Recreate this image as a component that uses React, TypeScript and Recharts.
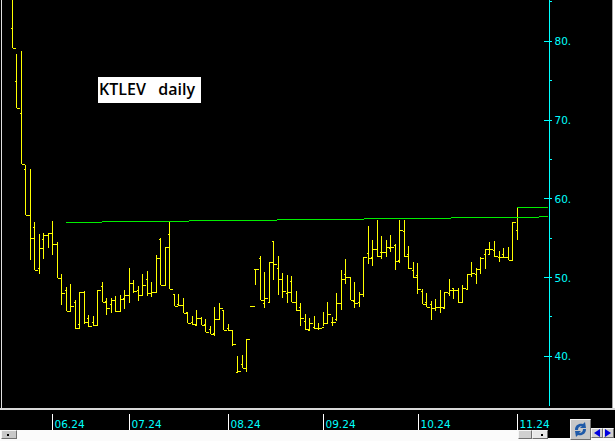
import React from 'react';
import { ComposedChart, Bar, XAxis, YAxis, ReferenceLine } from 'recharts';

// Daily bars, one entry per trading day
const highs = [
    86, 78.35, 78.77, 64.29, 63.78, 57.05, 55.53, 55.62, 55.7, 57.18,
    54.51, 50.45, 48.76, 49.18, 47.15, 48.17, 48.29, 45.2, 45.12, 48.42,
    49.47, 47.44, 47.44, 47.66, 47.78, 48.42, 51.17, 49.69, 48.93, 50.41,
    50.83, 49.43, 52.86, 54.98, 53.84, 57.09, 47.87, 47.91, 47.36, 45.66,
    45.12, 45.88, 45.03, 44.74, 43.85, 46.26, 46.77, 45.92, 44.14, 43.3,
    40.04, 40.17, 42.16, 46.35, 51.09, 52.74, 50.67, 51.94, 54.6, 52.74,
    50.62, 50.32, 50.24, 48.29, 46.73, 45.37, 44.83, 45.12, 44.19, 45.66,
    46.9, 44.95, 48.0, 50.96, 52.36, 50.03, 49.47, 48.21, 52.65, 56.58,
    54.77, 57.31, 55.28, 54.77, 55.4, 54.22, 57.31, 57.31, 53.97, 51.94,
    51.85, 48.55, 48.04, 47.02, 47.27, 48.46, 48.13, 49.82, 48.63, 48.63,
    49.05, 50.45, 52.01, 51.25, 52.65, 53.62, 54.47, 54.64, 53.37, 53.71,
    53.88, 57.02, 58.92,
];
const lows = [
    79.1, 71.49, 64.42, 57.9, 52.23, 50.92, 50.49, 52.36, 53.79, 52.9,
    49.9, 46.55, 45.75, 45.71, 43.43, 43.43, 44.14, 43.76, 43.89, 44.01,
    46.93, 45.24, 45.54, 45.66, 45.75, 46.0, 46.73, 48.08, 47.02, 47.69,
    47.66, 47.57, 48.13, 49.02, 49.02, 48.55, 46.43, 46.39, 45.54, 44.27,
    43.94, 43.89, 43.94, 43.05, 42.79, 42.62, 44.78, 43.3, 43.25, 41.31,
    38.04, 38.48, 37.97, 46.3, 49.05, 47.15, 46.09, 46.93, 49.69, 47.78,
    47.44, 46.81, 46.86, 45.79, 43.85, 43.34, 43.17, 43.47, 43.34, 43.89,
    44.06, 43.89, 44.48, 45.88, 49.18, 47.15, 46.17, 46.3, 47.49, 51.76,
    51.5, 52.65, 52.36, 52.65, 53.2, 50.96, 51.81, 52.65, 51.09, 49.9,
    47.87, 46.6, 46.22, 44.65, 45.75, 45.5, 46.04, 47.69, 47.27, 46.81,
    46.93, 48.42, 50.11, 49.18, 50.45, 51.09, 52.86, 52.65, 52.01, 52.52,
    52.23, 52.14, 54.77,
];
const opens = [
    81.65, 74.92, 70.93, 63.75, 57.9, 56.42, 51.17, 54.86, 55.4, 55.7,
    54.26, 49.9, 48.42, 45.75, 46.93, 44.1, 48.17, 44.82, 44.39, 44.01,
    48.89, 47.06, 46.6, 47.15, 45.75, 47.36, 47.78, 49.35, 48.46, 47.75,
    49.78, 48.0, 48.13, 54.93, 49.02, 55.49, 47.87, 46.64, 46.5, 45.6,
    44.39, 43.97, 44.83, 44.06, 43.47, 43.0, 44.7, 45.84, 43.63, 43.3,
    38.04, 38.98, 38.48, 46.35, 51.05, 52.44, 46.73, 46.93, 54.6, 51.17,
    49.78, 48.08, 49.56, 46.86, 46.26, 44.5, 43.34, 43.76, 43.63, 43.76,
    44.19, 44.39, 44.7, 46.73, 50.41, 50.03, 47.02, 46.93, 47.87, 53.08,
    52.65, 53.62, 53.2, 53.28, 53.71, 54.13, 52.23, 55.95, 52.99, 50.96,
    50.29, 48.29, 46.86, 46.6, 46.09, 46.22, 46.17, 48.0, 48.63, 48.38,
    46.93, 48.51, 50.45, 50.41, 51.09, 52.95, 52.95, 53.5, 52.65, 52.95,
    52.57, 52.23, 56.0,
];
const closes = [
    79.1, 71.49, 64.42, 57.9, 55.02, 50.92, 53.71, 55.4, 55.62, 54.22,
    49.9, 48.0, 45.75, 46.35, 43.63, 48.17, 44.32, 43.89, 43.97, 48.42,
    46.93, 46.09, 47.15, 45.75, 47.24, 47.78, 49.27, 48.29, 47.75, 49.02,
    48.0, 48.13, 52.44, 49.02, 53.84, 48.55, 46.43, 46.5, 45.54, 44.27,
    44.06, 44.83, 43.94, 43.12, 42.87, 44.7, 46.09, 43.34, 43.3, 41.56,
    38.13, 38.56, 42.16, 46.35, 51.05, 47.15, 47.36, 51.94, 51.68, 49.78,
    48.29, 48.21, 46.93, 45.88, 44.9, 43.43, 44.19, 43.63, 43.56, 44.19,
    45.33, 44.32, 46.73, 49.78, 50.03, 47.15, 46.81, 47.87, 52.65, 52.52,
    53.62, 52.78, 53.28, 53.84, 53.92, 52.1, 56.04, 52.74, 51.17, 50.03,
    48.51, 46.6, 46.3, 46.09, 46.22, 46.22, 48.13, 48.38, 48.4, 46.86,
    48.71, 50.45, 50.58, 51.09, 52.52, 53.59, 53.59, 52.74, 52.65, 52.57,
    52.23, 57.02, 58.92,
];

const monthTicks = [9, 26, 48, 69, 90, 112];
const monthLabels = ['06.24', '07.24', '08.24', '09.24', '10.24', '11.24'];
const priceTicks = [40, 45, 50, 55, 60, 65, 70, 75, 80, 85];

// Hand drawn lines on the chart: rising trendline and last close level
const trendStart = { x: 12, y: 57.0 };
const trendEnd = { x: 118.9, y: 57.7 };
const lastLevel = 58.92;

const chartData = highs.map((high, i) => ({
    idx: i,
    range: [lows[i], high],
    high,
    low: lows[i],
    open: opens[i],
    close: closes[i],
}));

const OhlcBar = (props: any) => {
    const { x, y, width, height, payload } = props;
    const cx = Math.floor(x + width / 2) + 0.5;
    const span = payload.high - payload.low;
    const toY = (v: number) => Math.round(span > 0 ? y + ((payload.high - v) / span) * height : y) + 0.5;
    return (
        <g stroke="#ffff00" strokeWidth={1} shapeRendering="crispEdges">
            <line x1={cx} x2={cx} y1={y} y2={y + height} />
            <line x1={cx - 2} x2={cx} y1={toY(payload.open)} y2={toY(payload.open)} />
            <line x1={cx} x2={cx + 3} y1={toY(payload.close)} y2={toY(payload.close)} />
        </g>
    );
};

const PriceTick = (props: any) => {
    const { x, y, payload } = props;
    const major = payload.value % 10 === 0;
    return (
        <g>
            <line x1={x - (major ? 8 : 3)} x2={x} y1={y} y2={y} stroke="#00ffff" shapeRendering="crispEdges" />
            {major && (
                <text x={x + 3} y={y + 4} fill="#00ffff" fontSize={10.5} fontFamily="DejaVu Sans">
                    {`${payload.value}.`}
                </text>
            )}
        </g>
    );
};

const MonthTick = (props: any) => {
    const { x, y, payload } = props;
    const cx = Math.floor(x) + 0.5;
    return (
        <g>
            <line x1={cx} x2={cx} y1={y + 6} y2={y + 24} stroke="#ffffff" shapeRendering="crispEdges" />
            <text x={cx + 2} y={y + 20} fill="#00ffff" fontSize={10.5} fontFamily="DejaVu Sans">
                {monthLabels[monthTicks.indexOf(payload.value)]}
            </text>
        </g>
    );
};

const box = (left: number, top: number, width: number, height: number, background: string): React.CSSProperties => ({
    position: 'absolute',
    left,
    top,
    width,
    height,
    background,
});

const bevel: React.CSSProperties = {
    boxSizing: 'border-box',
    borderTop: '1px solid #f4f4f4',
    borderLeft: '1px solid #f4f4f4',
    borderRight: '1px solid #707070',
    borderBottom: '1px solid #707070',
};

export default function App() {
    return (
        <div style={{ position: 'relative', width: 615, height: 441, background: '#000', overflow: 'hidden' }}>
            <style>{`body { margin: 0; }`}</style>

            <ComposedChart width={615} height={441} data={chartData} margin={{ top: 0, right: 0, bottom: 0, left: 0 }}>
                <XAxis
                    dataKey="idx"
                    type="number"
                    domain={[-2.728, 119.14]}
                    allowDataOverflow
                    ticks={monthTicks}
                    interval={0}
                    height={35}
                    axisLine={false}
                    tickLine={false}
                    tickSize={0}
                    tick={<MonthTick />}
                />
                <YAxis
                    orientation="right"
                    width={65.5}
                    domain={[33.69, 85.24]}
                    allowDataOverflow
                    ticks={priceTicks}
                    interval={0}
                    axisLine={{ stroke: '#00ffff' }}
                    tickLine={false}
                    tickSize={0}
                    tick={<PriceTick />}
                />
                <Bar dataKey="range" barSize={4} shape={<OhlcBar />} isAnimationActive={false} />
                <ReferenceLine
                    segment={[trendStart, trendEnd]}
                    stroke="#00ee00"
                    strokeWidth={1}
                    shapeRendering="crispEdges"
                    ifOverflow="visible"
                />
                <ReferenceLine
                    segment={[{ x: 112, y: lastLevel }, { x: 118.9, y: lastLevel }]}
                    stroke="#00ee00"
                    strokeWidth={1}
                    shapeRendering="crispEdges"
                    ifOverflow="visible"
                />
            </ComposedChart>

            {/* title box */}
            <div style={{
                ...box(98, 77, 103, 26, '#fff'),
                color: '#000',
                fontFamily: 'Open Sans',
                fontWeight: 600,
                fontSize: 16,
                lineHeight: '25px',
                whiteSpace: 'pre',
                paddingLeft: 1,
                boxSizing: 'border-box',
            }}>
                KTLEV   daily
            </div>

            {/* window frame */}
            <div style={box(1, 0, 1, 408, '#e0e0e0')} />
            <div style={box(0, 408, 615, 2, '#d8d8d8')} />
            <div style={box(612, 0, 1, 408, '#a8a8a8')} />
            <div style={box(613, 0, 2, 408, '#ffffff')} />

            {/* scroll bar */}
            <div style={box(0, 430, 518, 11, '#fbfbfb')} />
            <div style={box(518, 438, 52, 3, '#fbfbfb')} />
            <div style={{ ...box(1, 430, 16, 9, '#c8c8c8'), ...bevel }} />
            <div style={box(7, 434, 2, 2, '#000')} />
            <div style={{ ...box(518, 430, 14, 9, '#d0d0d0'), ...bevel }} />
            <div style={{ ...box(532, 430, 16, 9, '#e8e8e8'), ...bevel }} />
            <div style={box(541, 434, 2, 2, '#000')} />

            {/* refresh and arrow buttons */}
            <div style={box(570, 438, 45, 3, '#fbfbfb')} />
            <div style={{ ...box(570, 419, 21, 21, '#c8c8c8'), ...bevel }} />
            <svg style={{ position: 'absolute', left: 570, top: 419 }} width={21} height={21}>
                <path d="M5 11 C5 6 9 4 13 5 L15 3 L16 9 L10 9 L12 7 C10 7 8 8 8 11 Z" fill="#1f5aa8" />
                <path d="M16 10 C16 15 12 17 8 16 L6 18 L5 12 L11 12 L9 14 C11 14 13 13 13 10 Z" fill="#1f5aa8" />
            </svg>
            <div style={{ ...box(591, 428, 12, 10, '#d0d0d0'), ...bevel }} />
            <div style={{ ...box(603, 428, 11, 10, '#d0d0d0'), ...bevel }} />
            <svg style={{ position: 'absolute', left: 591, top: 428 }} width={24} height={10}>
                <polygon points="3,5 9,1 9,9" fill="#0000e0" />
                <polygon points="20,5 14,1 14,9" fill="#0000e0" />
            </svg>
        </div>
    );
}
